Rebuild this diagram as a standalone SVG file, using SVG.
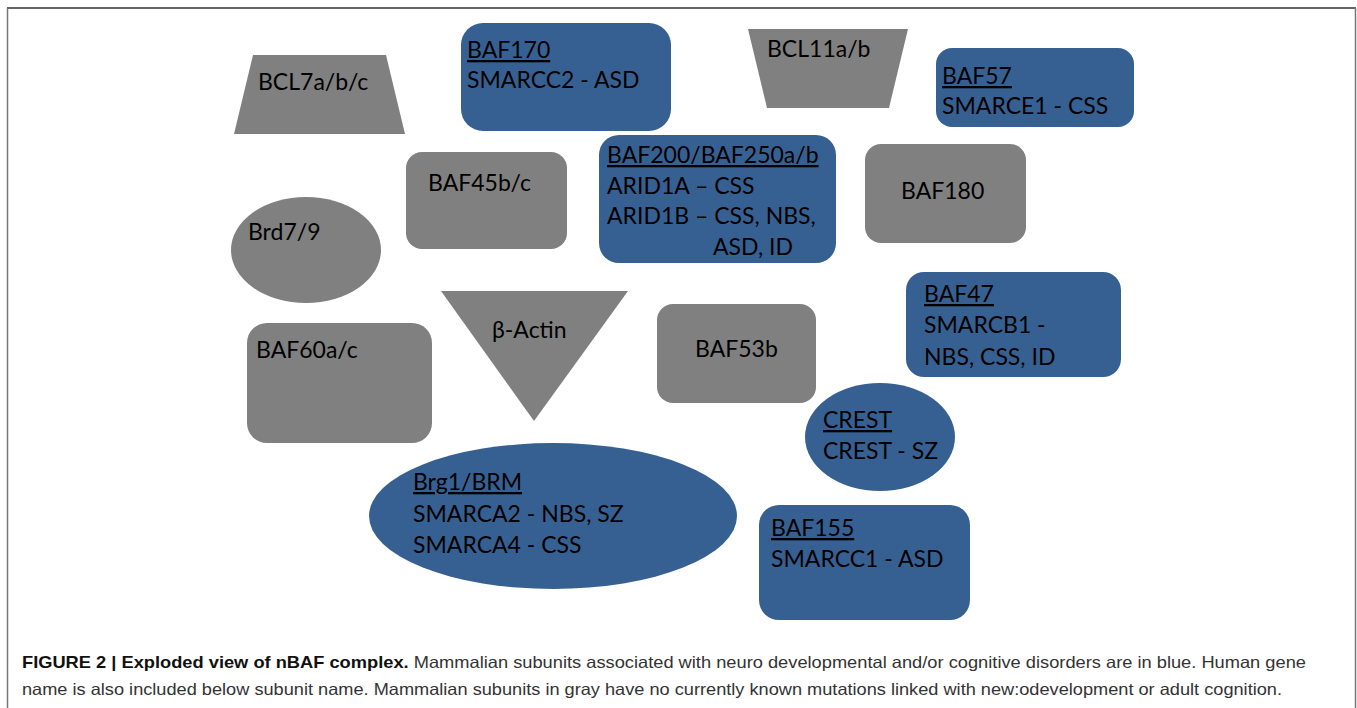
<svg xmlns="http://www.w3.org/2000/svg" width="1357" height="708" viewBox="0 0 1357 708">
<style>
.g{fill:#808080}
.b{fill:#376092}
.t{font-family:Lato,"Liberation Sans",sans-serif;font-size:23px;fill:#000}
.u{text-decoration:underline}
.cap{font-family:"Liberation Sans",Arial,sans-serif;font-size:16.5px;fill:#333}
.capb{font-weight:bold;fill:#111}
</style>
<rect width="1357" height="708" fill="#fff"/>
<g id="frame">
<line x1="7" y1="8" x2="1356" y2="8" stroke="#333" stroke-width="1.5"/>
<line x1="7.5" y1="8" x2="7.5" y2="708" stroke="#777" stroke-width="1.5"/>
<line x1="1355.5" y1="8" x2="1355.5" y2="708" stroke="#777" stroke-width="1.5"/>
</g>
<g id="connectors"></g>
<g id="BCL7">
<polygon class="g" points="253,55 386,55 405,134 234,134"/>
<text class="t" x="258" y="90">BCL7a/b/c</text>
</g>
<g id="BAF170">
<rect class="b" x="461" y="23" width="210" height="108" rx="22"/>
<text class="t" x="467" y="58"><tspan class="u">BAF170</tspan><tspan x="467" y="88">SMARCC2 - ASD</tspan></text>
</g>
<g id="BCL11">
<polygon class="g" points="748,29 908,29 889,108 767,108"/>
<text class="t" x="767" y="57">BCL11a/b</text>
</g>
<g id="BAF57">
<rect class="b" x="936" y="48" width="198" height="79" rx="16"/>
<text class="t" x="942" y="84"><tspan class="u">BAF57</tspan><tspan x="942" y="114">SMARCE1 - CSS</tspan></text>
</g>
<g id="BAF200">
<rect class="b" x="599" y="135" width="237" height="128" rx="20"/>
<text class="t" x="607" y="163"><tspan class="u">BAF200/BAF250a/b</tspan><tspan x="607" y="194">ARID1A – CSS</tspan><tspan x="607" y="224">ARID1B – CSS, NBS,</tspan><tspan x="713" y="255">ASD, ID</tspan></text>
</g>
<g id="BAF180">
<rect class="g" x="865" y="144" width="161" height="99" rx="16"/>
<text class="t" x="901" y="199">BAF180</text>
</g>
<g id="BAF45">
<rect class="g" x="406" y="152" width="161" height="97" rx="16"/>
<text class="t" x="428" y="191">BAF45b/c</text>
</g>
<g id="Brd7">
<ellipse class="g" cx="306" cy="250" rx="75" ry="53"/>
<text class="t" x="248" y="240">Brd7/9</text>
</g>
<g id="BAF60">
<rect class="g" x="247" y="323" width="185" height="120" rx="20"/>
<text class="t" x="256" y="358">BAF60a/c</text>
</g>
<g id="Actin">
<polygon class="g" points="441,291 628,291 534,421"/>
<text class="t" x="492" y="338">β-Actin</text>
</g>
<g id="BAF53b">
<rect class="g" x="657" y="304" width="159" height="99" rx="16"/>
<text class="t" x="695" y="357">BAF53b</text>
</g>
<g id="BAF47">
<rect class="b" x="906" y="272" width="215" height="105" rx="18"/>
<text class="t" x="924" y="302"><tspan class="u">BAF47</tspan><tspan x="924" y="333">SMARCB1 -</tspan><tspan x="924" y="365">NBS, CSS, ID</tspan></text>
</g>
<g id="CREST">
<ellipse class="b" cx="880" cy="437" rx="75" ry="54"/>
<text class="t" x="823" y="428"><tspan class="u">CREST</tspan><tspan x="823" y="459">CREST - SZ</tspan></text>
</g>
<g id="Brg1">
<ellipse class="b" cx="553" cy="516" rx="184" ry="73"/>
<text class="t" x="413" y="490"><tspan class="u">Brg1/BRM</tspan><tspan x="413" y="522">SMARCA2 - NBS, SZ</tspan><tspan x="413" y="553">SMARCA4 - CSS</tspan></text>
</g>
<g id="BAF155">
<rect class="b" x="759" y="505" width="211" height="115" rx="20"/>
<text class="t" x="771" y="536"><tspan class="u">BAF155</tspan><tspan x="771" y="567">SMARCC1 - ASD</tspan></text>
</g>
<g id="caption">
<text class="cap" x="22" y="668" textLength="1284" lengthAdjust="spacingAndGlyphs"><tspan class="capb">FIGURE 2 | Exploded view of nBAF complex.</tspan> Mammalian subunits associated with neuro developmental and/or cognitive disorders are in blue. Human gene</text>
<text class="cap" x="22" y="695" textLength="1260" lengthAdjust="spacingAndGlyphs">name is also included below subunit name. Mammalian subunits in gray have no currently known mutations linked with new:odevelopment or adult cognition.</text>
</g>
</svg>
